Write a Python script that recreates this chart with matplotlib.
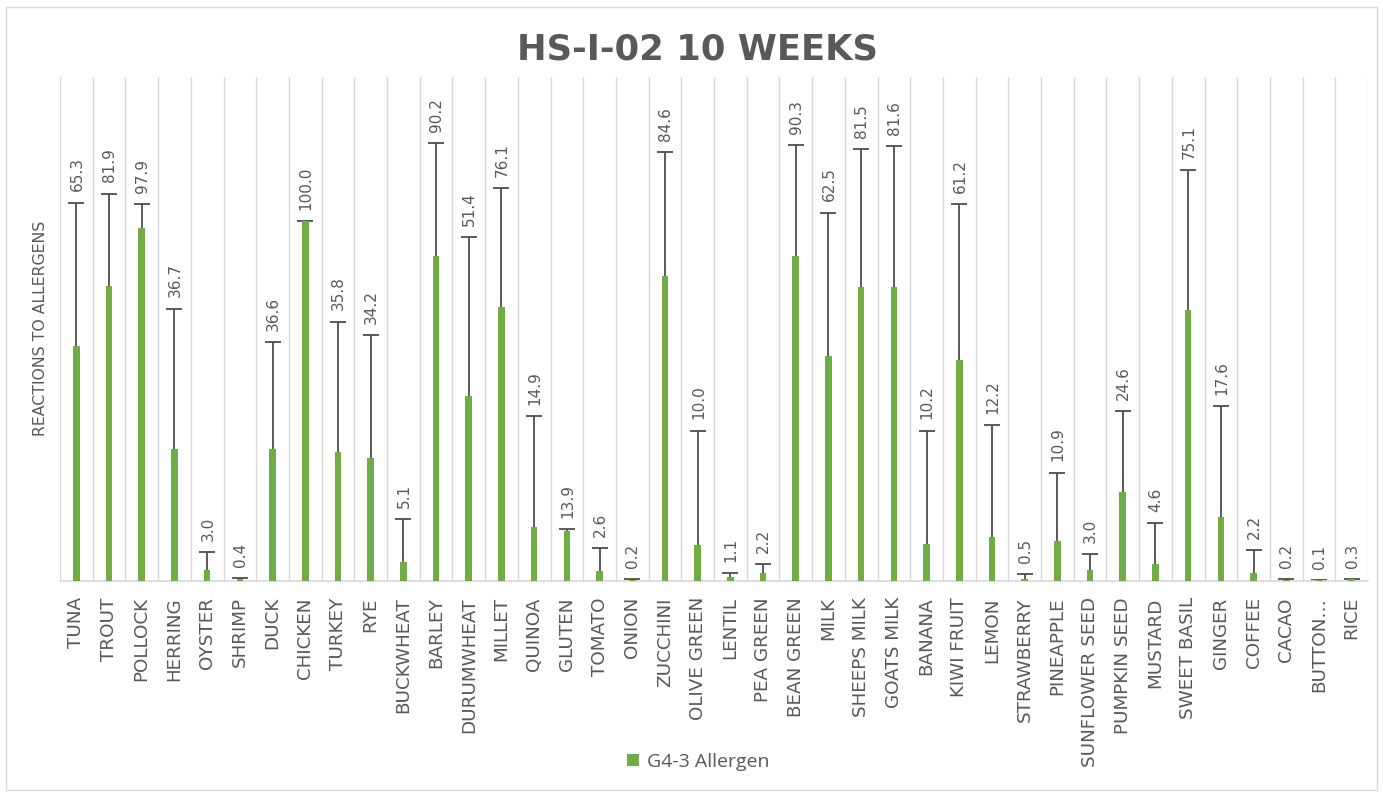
import matplotlib
matplotlib.use("Agg")
import matplotlib.pyplot as plt
from matplotlib.patches import Rectangle
import numpy as np

categories = ["TUNA", "TROUT", "POLLOCK", "HERRING", "OYSTER", "SHRIMP", "DUCK",
              "CHICKEN", "TURKEY", "RYE", "BUCKWHEAT", "BARLEY", "DURUMWHEAT",
              "MILLET", "QUINOA", "GLUTEN", "TOMATO", "ONION", "ZUCCHINI",
              "OLIVE GREEN", "LENTIL", "PEA GREEN", "BEAN GREEN", "MILK",
              "SHEEPS MILK", "GOATS MILK", "BANANA", "KIWI FRUIT", "LEMON",
              "STRAWBERRY", "PINEAPPLE", "SUNFLOWER SEED", "PUMPKIN SEED",
              "MUSTARD", "SWEET BASIL", "GINGER", "COFFEE", "CACAO", "BUTTON…", "RICE"]

values = [65.3, 81.9, 97.9, 36.7, 3.0, 0.4, 36.6, 100.0, 35.8, 34.2, 5.1, 90.2,
          51.4, 76.1, 14.9, 13.9, 2.6, 0.2, 84.6, 10.0, 1.1, 2.2, 90.3, 62.5,
          81.5, 81.6, 10.2, 61.2, 12.2, 0.5, 10.9, 3.0, 24.6, 4.6, 75.1, 17.6,
          2.2, 0.2, 0.1, 0.3]

errors = [39.8, 25.7, 6.7, 38.9, 5.0, 0.4, 29.6, 0.0, 36.2, 34.0, 12.1, 31.4,
          44.1, 33.0, 30.9, 0.3, 6.4, 0.2, 34.6, 31.7, 0.9, 2.4, 30.9, 39.8,
          38.4, 39.1, 31.5, 43.4, 31.1, 1.3, 19.1, 4.4, 22.4, 11.3, 39.0, 30.8,
          6.3, 0.2, 0.1, 0.2]

series_name = "G4-3 Allergen"
title = "HS-I-02 10 WEEKS"
ylabel = "REACTIONS TO ALLERGENS"

GREEN = "#70AD47"
GRAY_TXT = "#595959"
GRID = "#D9D9D9"
ERR = "#4D4D4D"

plt.rcParams["font.family"] = ["DejaVu Sans"]

fig = plt.figure(figsize=(13.83, 7.94), dpi=100)
fig.patch.set_facecolor("white")
fig.patches.append(Rectangle((6 / 1383, 4 / 794), 1371 / 1383, 783 / 794,
                             transform=fig.transFigure, fill=False,
                             edgecolor=GRID, linewidth=1.0))

ax = fig.add_axes([60 / 1383, (794 - 580.5) / 794, 1308 / 1383, (580.5 - 77) / 794])
n = len(categories)
x = np.arange(n)
vals = np.array(values)
errs = np.array(errors)

# gridlines at category boundaries
for b in np.arange(-0.5, n, 1.0):
    ax.axvline(b, color=GRID, linewidth=1.0, zorder=0)

# error bars (plus direction only)
ax.vlines(x, vals, vals + errs, color=ERR, linewidth=1.3, zorder=2)
ax.plot(x, vals + errs, linestyle="none", marker="_", markersize=11,
        markeredgewidth=1.3, color=ERR, zorder=2)

bars = ax.bar(x, vals, width=0.2, color=GREEN, zorder=3, label=series_name)

for xi, v, e in zip(x, vals, errs):
    ax.annotate(f"{v:.1f}", xy=(xi, v + e), xytext=(0.5, 8),
                textcoords="offset points", rotation=90, ha="center",
                va="bottom", fontsize=11, color=GRAY_TXT, zorder=4)

ax.set_xlim(-0.5, n - 0.5)
ax.set_ylim(0, 140)
ax.set_yticks([])
ax.set_xticks(x)
ax.set_xticklabels(categories, rotation=90, fontsize=13.2, color=GRAY_TXT,
                   va="top", ha="center")
ax.tick_params(axis="x", length=0, pad=12)
for s in ["top", "right", "left"]:
    ax.spines[s].set_visible(False)
ax.spines["bottom"].set_color(GRID)
ax.spines["bottom"].set_linewidth(1.2)

ax.set_ylabel(ylabel, fontsize=11.3, color=GRAY_TXT)
ax.yaxis.set_label_coords(-0.009, 0.5)

fig.text(0.504, 1 - 49 / 794, title, ha="center", va="center",
         fontsize=25.5, fontweight="bold", color=GRAY_TXT, family="DejaVu Sans")

leg = fig.legend(handles=[bars], labels=[series_name], loc="center",
                 bbox_to_anchor=(0.505, 1 - 762 / 794), frameon=False,
                 fontsize=14, handlelength=0.6, handleheight=0.6,
                 handletextpad=0.4)
for t in leg.get_texts():
    t.set_color(GRAY_TXT)
    t.set_family("Open Sans")

fig.savefig("out.png", dpi=100, facecolor="white")
